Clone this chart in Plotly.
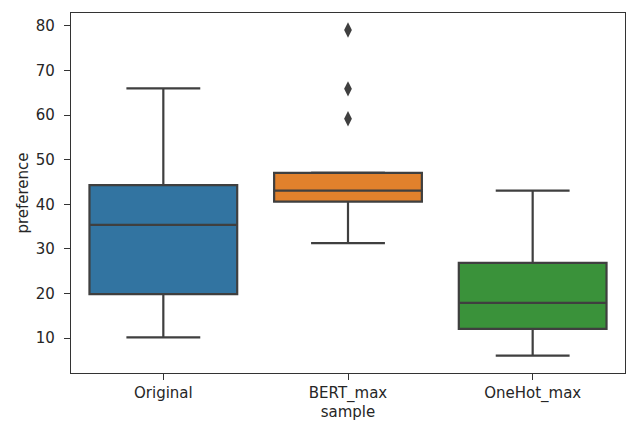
import plotly.graph_objects as go

categories = ["Original", "BERT_max", "OneHot_max"]
q1 = [19.9, 40.6, 12.1]
median = [35.4, 43.1, 17.9]
q3 = [44.3, 47.05, 26.9]
lower_whisker = [10.2, 31.3, 6.1]
upper_whisker = [66.0, 47.1, 43.1]
colors = ["#3274a1", "#e1812c", "#3a923a"]
outlier_cat = ["BERT_max", "BERT_max", "BERT_max"]
outlier_val = [79.1, 65.9, 59.2]
y_ticks = [10, 20, 30, 40, 50, 60, 70, 80]

line_col = "#3f3f3f"
text_col = "#262626"
font = "DejaVu Sans"

fig = go.Figure()
for i, c in enumerate(categories):
    fig.add_trace(go.Box(
        x=[c], q1=[q1[i]], median=[median[i]], q3=[q3[i]],
        lowerfence=[lower_whisker[i]], upperfence=[upper_whisker[i]],
        fillcolor=colors[i], line=dict(color=line_col, width=2.2),
        width=0.8, whiskerwidth=0.5, boxpoints=False, showlegend=False,
        hoverinfo="skip",
    ))

fig.add_trace(go.Scatter(
    x=outlier_cat, y=outlier_val, mode="markers",
    marker=dict(symbol="diamond-tall", size=11, color=line_col,
                line=dict(width=0)),
    showlegend=False,
))

fig.update_layout(
    width=627, height=426,
    margin=dict(l=71, r=2, t=13, b=53),
    paper_bgcolor="white", plot_bgcolor="white",
    font=dict(family=font, size=15, color=text_col),
    xaxis=dict(
        type="category", categoryorder="array", categoryarray=categories,
        range=[-0.5, 2.5], showgrid=False, zeroline=False,
        showline=True, mirror=True, linecolor="#333333", linewidth=1.3,
        ticks="outside", ticklen=6, tickcolor="#333333", tickwidth=1.3,
        title=dict(text="sample", font=dict(size=15, color=text_col), standoff=0),
        tickfont=dict(size=15, color=text_col),
    ),
    yaxis=dict(
        range=[2.2, 82.9], tickvals=y_ticks, showgrid=False, zeroline=False,
        showline=True, mirror=True, linecolor="#333333", linewidth=1.3,
        ticks="outside", ticklen=6, tickcolor="#333333", tickwidth=1.3,
        ticklabelstandoff=6,
        title=dict(text="preference", font=dict(size=15, color=text_col), standoff=3),
        tickfont=dict(size=15, color=text_col),
    ),
)

fig.write_html(
    "out.html",
    config={"displayModeBar": False},
    post_script="document.body.style.margin='0';document.body.style.overflow='hidden';",
)
